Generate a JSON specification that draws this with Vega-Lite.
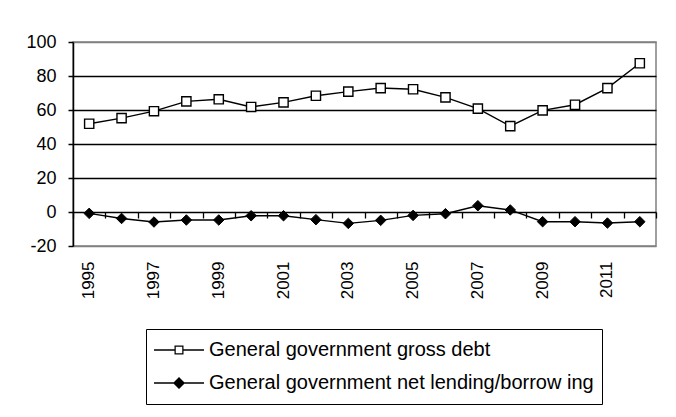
{
  "$schema": "https://vega.github.io/schema/vega-lite/v6.json",
  "autosize": {"type": "none"},
  "padding": {"left": 73, "top": 42, "right": 20, "bottom": 171},
  "width": 583,
  "height": 204,
  "background": "white",
  "config": {
    "font": "Liberation Sans",
    "view": {"stroke": "#808080", "strokeWidth": 1.5},
    "legend": {
      "title": null, "orient": "none", "legendX": 73, "legendY": 287,
      "direction": "vertical",
      "labelFontSize": 20, "labelColor": "black", "labelLimit": 600,
      "symbolSize": 2500, "symbolOpacity": 1, "symbolFillColor": "black",
      "symbolStrokeWidth": 0,
      "rowPadding": 7, "clipHeight": 26,
      "strokeColor": "black", "fillColor": "white", "padding": 8,
      "labelOffset": 5
    }
  },
  "data": {
    "values": [
      {"year": 1995, "series": "General government gross debt", "value": 51.9},
      {"year": 1996, "series": "General government gross debt", "value": 55.2},
      {"year": 1997, "series": "General government gross debt", "value": 59.3},
      {"year": 1998, "series": "General government gross debt", "value": 65.1},
      {"year": 1999, "series": "General government gross debt", "value": 66.3},
      {"year": 2000, "series": "General government gross debt", "value": 61.8},
      {"year": 2001, "series": "General government gross debt", "value": 64.5},
      {"year": 2002, "series": "General government gross debt", "value": 68.4},
      {"year": 2003, "series": "General government gross debt", "value": 70.8},
      {"year": 2004, "series": "General government gross debt", "value": 72.9},
      {"year": 2005, "series": "General government gross debt", "value": 72.2},
      {"year": 2006, "series": "General government gross debt", "value": 67.4},
      {"year": 2007, "series": "General government gross debt", "value": 60.8},
      {"year": 2008, "series": "General government gross debt", "value": 50.5},
      {"year": 2009, "series": "General government gross debt", "value": 59.8},
      {"year": 2010, "series": "General government gross debt", "value": 63.1},
      {"year": 2011, "series": "General government gross debt", "value": 72.9},
      {"year": 2012, "series": "General government gross debt", "value": 87.5},
      {"year": 1995, "series": "General government net lending/borrow ing", "value": -0.8},
      {"year": 1996, "series": "General government net lending/borrow ing", "value": -3.8},
      {"year": 1997, "series": "General government net lending/borrow ing", "value": -5.9},
      {"year": 1998, "series": "General government net lending/borrow ing", "value": -4.7},
      {"year": 1999, "series": "General government net lending/borrow ing", "value": -4.7},
      {"year": 2000, "series": "General government net lending/borrow ing", "value": -2.2},
      {"year": 2001, "series": "General government net lending/borrow ing", "value": -2.2},
      {"year": 2002, "series": "General government net lending/borrow ing", "value": -4.5},
      {"year": 2003, "series": "General government net lending/borrow ing", "value": -6.7},
      {"year": 2004, "series": "General government net lending/borrow ing", "value": -4.9},
      {"year": 2005, "series": "General government net lending/borrow ing", "value": -2.0},
      {"year": 2006, "series": "General government net lending/borrow ing", "value": -1.0},
      {"year": 2007, "series": "General government net lending/borrow ing", "value": 3.7},
      {"year": 2008, "series": "General government net lending/borrow ing", "value": 1.2},
      {"year": 2009, "series": "General government net lending/borrow ing", "value": -5.7},
      {"year": 2010, "series": "General government net lending/borrow ing", "value": -5.7},
      {"year": 2011, "series": "General government net lending/borrow ing", "value": -6.5},
      {"year": 2012, "series": "General government net lending/borrow ing", "value": -5.7}
    ]
  },
  "resolve": {"axis": {"x": "independent"}},
  "layer": [
    {
      "mark": {"type": "line", "color": "black", "strokeWidth": 1.4},
      "encoding": {
        "x": {
          "field": "year", "type": "ordinal",
          "scale": {"type": "band", "paddingInner": 0, "paddingOuter": 0},
          "axis": {
            "orient": "bottom", "title": null, "values": [1995,1997,1999,2001,2003,2005,2007,2009,2011],
            "labelAngle": -90, "labelAlign": "right", "labelBaseline": "middle",
            "labelFontSize": 17, "labelColor": "black", "labelPadding": 15,
            "labelOverlap": false,
            "ticks": false, "domain": false
          }
        },
        "y": {
          "field": "value", "type": "quantitative",
          "scale": {"domain": [-20, 100], "nice": false, "zero": false},
          "axis": {
            "title": null, "values": [-20,0,20,40,60,80,100],
            "labelExpr": "'' + datum.value",
            "labelOverlap": false,
            "labelFontSize": 18, "labelColor": "black", "labelPadding": 12,
            "tickSize": 5, "tickColor": "black", "tickWidth": 1.5,
            "domainColor": "black", "domainWidth": 1.5,
            "gridColor": {"condition": {"test": "datum.value === 100 || datum.value === -20", "value": "#808080"}, "value": "black"},
            "gridWidth": 1.3, "gridOpacity": 1
          }
        },
        "detail": {"field": "series"}
      }
    },
    {
      "transform": [{"filter": "datum.series === 'General government gross debt'"}],
      "mark": {"type": "point", "shape": "square", "filled": true, "fill": "white", "stroke": "black", "strokeWidth": 1.4, "opacity": 1, "size": 85},
      "encoding": {
        "x": {
          "field": "year", "type": "ordinal",
          "axis": {
            "orient": "bottom", "offset": -34, "title": null, "labels": false,
            "domain": false, "grid": false, "ticks": true, "tickBand": "extent",
            "tickSize": 6, "tickColor": "black", "tickWidth": 1.3
          }
        },
        "y": {
          "field": "value", "type": "quantitative",
          "axis": {
            "title": null, "values": [-20,0,20,40,60,80,100],
            "labelExpr": "'' + datum.value",
            "labelOverlap": false,
            "labelFontSize": 18, "labelColor": "black", "labelPadding": 12,
            "tickSize": 5, "tickColor": "black", "tickWidth": 1.5,
            "domainColor": "black", "domainWidth": 1.5,
            "gridColor": {"condition": {"test": "datum.value === 100 || datum.value === -20", "value": "#808080"}, "value": "black"},
            "gridWidth": 1.3, "gridOpacity": 1
          }
        }
      }
    },
    {
      "transform": [{"filter": "datum.series !== 'General government gross debt'"}],
      "mark": {"type": "point", "shape": "diamond", "filled": true, "fill": "black", "stroke": "black", "strokeWidth": 1, "opacity": 1, "size": 110},
      "encoding": {
        "x": {"field": "year", "type": "ordinal", "axis": null},
        "y": {
          "field": "value", "type": "quantitative",
          "axis": {
            "title": null, "values": [-20,0,20,40,60,80,100],
            "labelExpr": "'' + datum.value",
            "labelOverlap": false,
            "labelFontSize": 18, "labelColor": "black", "labelPadding": 12,
            "tickSize": 5, "tickColor": "black", "tickWidth": 1.5,
            "domainColor": "black", "domainWidth": 1.5,
            "gridColor": {"condition": {"test": "datum.value === 100 || datum.value === -20", "value": "#808080"}, "value": "black"},
            "gridWidth": 1.3, "gridOpacity": 1
          }
        }
      }
    },
    {
      "mark": {"type": "point", "filled": true, "color": "black", "opacity": 0, "strokeWidth": 0},
      "encoding": {
        "x": {"field": "year", "type": "ordinal", "axis": null},
        "y": {
          "field": "value", "type": "quantitative",
          "axis": {
            "title": null, "values": [-20,0,20,40,60,80,100],
            "labelExpr": "'' + datum.value",
            "labelOverlap": false,
            "labelFontSize": 18, "labelColor": "black", "labelPadding": 12,
            "tickSize": 5, "tickColor": "black", "tickWidth": 1.5,
            "domainColor": "black", "domainWidth": 1.5,
            "gridColor": {"condition": {"test": "datum.value === 100 || datum.value === -20", "value": "#808080"}, "value": "black"},
            "gridWidth": 1.3, "gridOpacity": 1
          }
        },
        "shape": {
          "field": "series", "type": "nominal",
          "scale": {
            "domain": ["General government gross debt", "General government net lending/borrow ing"],
            "range": [
              "M-1,-0.028L-0.18,-0.028L-0.18,0.028L-1,0.028Z M0.18,-0.028L1,-0.028L1,0.028L0.18,0.028Z M-0.18,-0.18L0.18,-0.18L0.18,0.18L-0.18,0.18Z M-0.13,-0.13L-0.13,0.13L0.13,0.13L0.13,-0.13Z",
              "M-1,-0.028L1,-0.028L1,0.028L-1,0.028Z M0,-0.24L0.24,0L0,0.24L-0.24,0Z"
            ]
          }
        }
      }
    }
  ]
}
